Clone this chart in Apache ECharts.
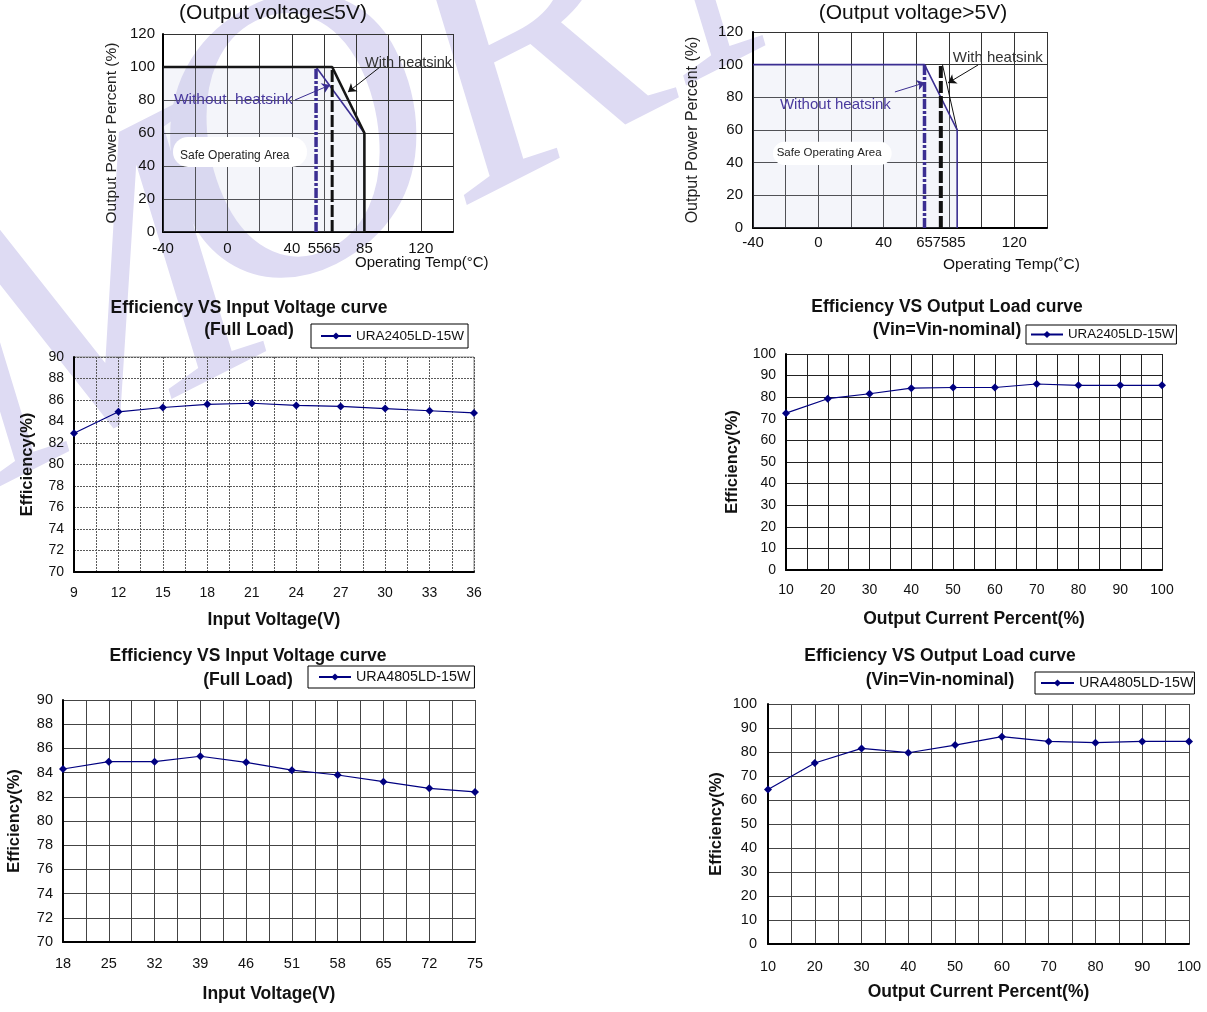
<!DOCTYPE html>
<html><head><meta charset="utf-8">
<script src="https://cdn.jsdelivr.net/npm/echarts@6/dist/echarts.min.js"></script>
<style>html,body{margin:0;padding:0;background:#fff}#c{width:1207px;height:1012px}</style>
</head><body><div id="c"></div>
<script>
const FONT = '"Liberation Sans", Arial, Helvetica, sans-serif';
// ---------- data ----------
const tempTicksLow = [-40, 0, 40, 55, 65, 85, 120];
const tempTicksHigh = [-40, 0, 40, 65, 75, 85, 120];
const lowWithHeatsink = [[-40, 100], [65, 100], [85, 60], [85, 0]];
const lowWithoutHeatsink = [[55, 100], [85, 60]];
const lowWithoutLimit = [[55, 0], [55, 100]];
const lowWithLimit = [[65, 0], [65, 100]];
const highWithoutHeatsink = [[-40, 100], [65, 100], [85, 60], [85, 0]];
const highWithHeatsink = [[76, 100], [85, 60]];
const highWithoutLimit = [[65, 0], [65, 100]];
const highWithLimit = [[75, 0], [75, 100]];

const vin24 = [9, 12, 15, 18, 21, 24, 27, 30, 33, 36];
const eff24Vin = [82.9, 84.9, 85.3, 85.6, 85.7, 85.5, 85.4, 85.2, 85.0, 84.8];
const loadPct = [10, 20, 30, 40, 50, 60, 70, 80, 90, 100];
const eff24Load = [72.6, 79.3, 81.6, 84.2, 84.5, 84.5, 86.1, 85.5, 85.5, 85.5];
const vin48Labels = ['18', '25', '32', '39', '46', '51', '58', '65', '72', '75'];
const eff48Vin = [84.3, 84.9, 84.9, 85.35, 84.85, 84.2, 83.8, 83.25, 82.7, 82.4];
const eff48Load = [64.4, 75.4, 81.5, 79.7, 82.9, 86.4, 84.4, 83.9, 84.4, 84.4];
const model24 = 'URA2405LD-15W';
const model48 = 'URA4805LD-15W';

// ---------- styles ----------
const PURPLE = '#3b2e92';
const NAVY = '#000080';
const lbl = (size, extra) => Object.assign({ fontSize: size, color: '#111', fontFamily: FONT }, extra || {});

function xVal(gi, min, max, interval, labelVals, gridColor, gridType, fs, margin, extraLabel) {
  return {
    type: 'value', gridIndex: gi, min, max, interval,
    axisLine: { show: true, onZero: false, lineStyle: { color: '#000', width: 2 } },
    axisTick: { show: false },
    splitLine: { show: true, lineStyle: { color: gridColor, width: 1, type: gridType } },
    axisLabel: Object.assign(lbl(fs, { margin }), extraLabel || {}, { customValues: labelVals })
  };
}
function yVal(gi, min, max, interval, gridColor, gridType, fs, margin) {
  return {
    type: 'value', gridIndex: gi, min, max, interval,
    axisLine: { show: true, onZero: false, lineStyle: { color: '#000', width: 2 } },
    axisTick: { show: false },
    splitLine: { show: true, lineStyle: { color: gridColor, width: 1, type: gridType } },
    axisLabel: lbl(fs, { margin })
  };
}
const effName = (gap) => ({ name: 'Efficiency(%)', nameLocation: 'middle', nameGap: gap, nameRotate: 90,
  nameTextStyle: { fontSize: 16.5, fontWeight: 'bold', color: '#111', fontFamily: FONT } });
const xName = (txt, gap) => ({ name: txt, nameLocation: 'middle', nameGap: gap,
  nameTextStyle: { fontSize: 17.5, fontWeight: 'bold', color: '#111', fontFamily: FONT } });
const powName = (gap, fs) => ({ name: 'Output Power Percent (%)', nameLocation: 'middle', nameGap: gap, nameRotate: 90,
  nameTextStyle: { fontSize: fs, color: '#222', fontFamily: FONT } });

function effSeries(name, xi, data) {
  return { type: 'line', name, xAxisIndex: xi, yAxisIndex: xi, data,
    symbol: 'diamond', symbolSize: 8, color: NAVY,
    lineStyle: { color: NAVY, width: 1.2 }, itemStyle: { color: NAVY } };
}
function plain(xi, data, color, width, type, extra) {
  return Object.assign({ type: 'line', xAxisIndex: xi, yAxisIndex: xi, data, symbol: 'none', silent: true,
    lineStyle: { color, width, type: type || 'solid' } }, extra || {});
}
function arrows(list, color) {
  return { silent: true, symbol: ['none', 'arrow'], symbolSize: 8, label: { show: false },
    lineStyle: { color, width: 1, type: 'solid' }, emphasis: { disabled: true },
    data: list.map(a => [{ coord: a[0] }, { coord: a[1] }]) };
}
function legend(name, left, top, pad, fs, iw) {
  return { data: [name], left, top, orient: 'horizontal', selectedMode: false,
    borderColor: '#000', borderWidth: 1, padding: pad, itemWidth: iw, itemHeight: 9, itemGap: 4,
    textStyle: { fontSize: fs, color: '#111', fontFamily: FONT } };
}

const chart = echarts.init(document.getElementById('c'));
const option = {
  animation: false,
  backgroundColor: '#fff',
  textStyle: { fontFamily: FONT },
  grid: [
    { left: 163, top: 34, width: 290, height: 198, outerBoundsMode: 'none' },
    { left: 753, top: 32, width: 294, height: 196, outerBoundsMode: 'none' },
    { left: 74, top: 357, width: 400, height: 215, show: true, borderColor: '#8a8a8a', borderWidth: 1, outerBoundsMode: 'none' },
    { left: 786, top: 354, width: 376, height: 216, outerBoundsMode: 'none' },
    { left: 63, top: 700, width: 412, height: 242, outerBoundsMode: 'none' },
    { left: 768, top: 704, width: 421, height: 240, outerBoundsMode: 'none' }
  ],
  legend: [
    legend(model24, 311, 324, [5, 4, 5, 9], 13.5, 30),
    legend(model24, 1026, 325, [3, 2, 3, 4], 13.3, 32),
    legend(model48, 308, 666, [4, 4, 4, 10], 14.3, 32),
    legend(model48, 1035, 672, [4, 1, 4, 5], 14.3, 33)
  ],
  xAxis: [
    xVal(0, -40, 140, 20, tempTicksLow, '#333', 'solid', 15, 9),
    xVal(1, -40, 140, 20, tempTicksHigh, '#333', 'solid', 15, 7),
    Object.assign(xVal(2, 9, 36, 1.5, vin24, '#5a5a5a', [2, 1], 14, 14), xName('Input Voltage(V)', 39)),
    Object.assign(xVal(3, 10, 100, 5, loadPct, '#222', 'solid', 14, 13), xName('Output Current Percent(%)', 40)),
    Object.assign(xVal(4, 0, vin48Labels.length - 1, 0.5, vin48Labels.map((_, i) => i), '#444', 'solid', 14.5, 14,
      { formatter: v => vin48Labels[v] }), xName('Input Voltage(V)', 43)),
    Object.assign(xVal(5, 10, 100, 5, loadPct, '#444', 'solid', 14.5, 15), xName('Output Current Percent(%)', 39))
  ],
  yAxis: [
    Object.assign(yVal(0, 0, 120, 20, '#333', 'solid', 15, 8), powName(43, 15.5)),
    Object.assign(yVal(1, 0, 120, 20, '#333', 'solid', 15, 10), powName(52, 16)),
    Object.assign(yVal(2, 70, 90, 2, '#5a5a5a', [2, 1], 14, 10), effName(38)),
    Object.assign(yVal(3, 0, 100, 10, '#222', 'solid', 14, 10), effName(45)),
    Object.assign(yVal(4, 70, 90, 2, '#444', 'solid', 14.5, 10), effName(40)),
    Object.assign(yVal(5, 0, 100, 10, '#444', 'solid', 14.5, 11), effName(43))
  ],
  series: [
    // ---- derating, output <= 5V ----
    plain(0, lowWithHeatsink, 'rgba(0,0,0,0)', 0, 'solid', { areaStyle: { color: 'rgba(200,206,228,0.28)' }, z: 1,
      markLine: arrows([[[94.7, 100], [74.8, 84.8]]], '#111') }),
    plain(0, lowWithoutHeatsink, PURPLE, 1.6, 'solid', { markLine: arrows([[[41.9, 80], [63.7, 89.1]]], PURPLE) }),
    plain(0, lowWithHeatsink, '#161616', 2.6),
    plain(0, lowWithoutLimit, PURPLE, 3.5, [10, 2, 3, 2]),
    plain(0, lowWithLimit, '#111', 3, [12, 3]),
    // ---- derating, output > 5V ----
    plain(1, highWithoutHeatsink, 'rgba(0,0,0,0)', 0, 'solid', { areaStyle: { color: 'rgba(200,206,228,0.28)' }, z: 1,
      markLine: arrows([[[97.8, 99.8], [79.4, 88.8]]], '#111') }),
    plain(1, highWithHeatsink, '#111', 1),
    plain(1, highWithoutHeatsink, PURPLE, 1.6, 'solid', { markLine: arrows([[[46.9, 83.3], [65.3, 89.0]]], PURPLE) }),
    plain(1, highWithoutLimit, PURPLE, 3.5, [10, 2, 3, 2]),
    plain(1, highWithLimit, '#111', 4, [12, 3]),
    // ---- efficiency ----
    effSeries(model24, 2, vin24.map((v, i) => [v, eff24Vin[i]])),
    effSeries(model24, 3, loadPct.map((v, i) => [v, eff24Load[i]])),
    effSeries(model48, 4, vin48Labels.map((v, i) => [i, eff48Vin[i]])),
    effSeries(model48, 5, loadPct.map((v, i) => [v, eff48Load[i]]))
  ]
};
chart.setOption(option);

// ---------- annotations placed through the axes ----------
const px = (gi, p) => chart.convertToPixel({ gridIndex: gi }, p);
const T = (x, y, text, font, fill, align, extra) => Object.assign({ type: 'text', x, y, silent: true, z: 50,
  style: { text, font, fill, align: align || 'left', verticalAlign: 'middle' } }, extra || {});
function safeBox(gi, a, b, textPos, fs) {
  const p1 = px(gi, a), p2 = px(gi, b), t = px(gi, textPos);
  return [
    { type: 'rect', z: 40, silent: true, shape: { x: p1[0], y: p1[1], width: p2[0] - p1[0], height: p2[1] - p1[1], r: 15 }, style: { fill: '#fff' } },
    T(t[0], t[1], 'Safe Operating Area', fs + 'px ' + FONT, '#222')
  ];
}
const g = [];
// watermark (decorative brand letters)
const WM = '#dedbf3';
const wmLetters = [['M', 95, 320], ['O', 300, 160], ['R', 530, 55], ['N', 760, -70]];
wmLetters.forEach(l => g.push({ type: 'text', x: l[1], y: l[2], z: -10, silent: true, rotation: 0.47,
  style: { text: l[0], font: 'italic 400px "Liberation Serif"', fill: WM, align: 'center', verticalAlign: 'middle' } }));
// titles
g.push(T(273, 13, '(Output voltage≤5V)', '21px ' + FONT, '#111', 'center'));
g.push(T(913, 13, '(Output voltage>5V)', '21px ' + FONT, '#111', 'center'));
const TF = 'bold 17.5px ' + FONT;
g.push(T(249, 308, 'Efficiency VS Input Voltage curve', TF, '#111', 'center'));
g.push(T(249, 330, '(Full Load)', TF, '#111', 'center'));
g.push(T(947, 307, 'Efficiency VS Output Load curve', TF, '#111', 'center'));
g.push(T(947, 330, '(Vin=Vin-nominal)', TF, '#111', 'center'));
g.push(T(248, 656, 'Efficiency VS Input Voltage curve', TF, '#111', 'center'));
g.push(T(248, 680, '(Full Load)', TF, '#111', 'center'));
g.push(T(940, 656, 'Efficiency VS Output Load curve', TF, '#111', 'center'));
g.push(T(940, 680, '(Vin=Vin-nominal)', TF, '#111', 'center'));
// derating annotations
let p = px(0, [85.4, 102.6]); g.push(T(p[0], p[1], 'With heatsink', '14.5px ' + FONT, '#333'));
p = px(0, [-33.2, 80]); g.push(T(p[0], p[1], 'Without  heatsink', '15.5px ' + FONT, '#4a3a9e'));
p = px(0, [79.2, 0]); g.push(T(p[0], p[1] + 31, 'Operating Temp(°C)', '15px ' + FONT, '#111'));
safeBox(0, [-33.8, 57.6], [49.4, 39.4], [-29.4, 46.2], 12).forEach(e => g.push(e));
p = px(1, [82.3, 104.1]); g.push(T(p[0], p[1], 'With heatsink', '15px ' + FONT, '#333'));
p = px(1, [-23.5, 75.3]); g.push(T(p[0], p[1], 'Without heatsink', '15px ' + FONT, '#4a3a9e'));
p = px(1, [76.3, 0]); g.push(T(p[0], p[1] + 37, 'Operating Temp(˚C)', '15.5px ' + FONT, '#111'));
safeBox(1, [-27.8, 52.8], [44.9, 38.6], [-25.5, 46.3], 11.5).forEach(e => g.push(e));
chart.setOption({ graphic: { elements: g } });
</script></body></html>
